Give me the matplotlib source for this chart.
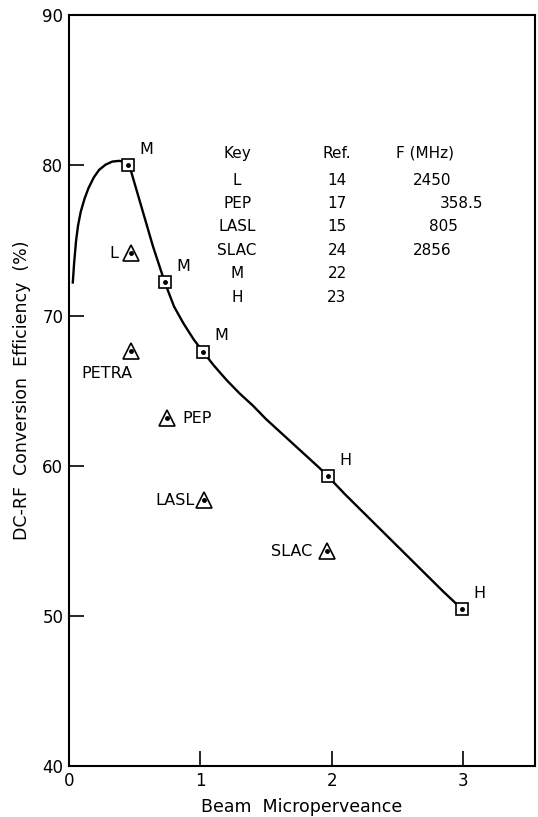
import matplotlib
matplotlib.use("Agg")
from matplotlib import pyplot as plt

# curve
curveX = [0.03, 0.04, 0.055, 0.07, 0.09, 0.12, 0.15, 0.19, 0.23, 0.28, 0.33, 0.38,
          0.42, 0.46, 0.55, 0.64, 0.73, 0.80, 0.87, 0.95, 1.02, 1.10, 1.20, 1.30,
          1.40, 1.50, 1.60, 1.70, 1.80, 1.90, 1.97, 2.10, 2.25, 2.40, 2.55, 2.70,
          2.85, 2.99]
curveY = [72.2, 73.5, 75.0, 76.0, 76.9, 77.8, 78.5, 79.2, 79.7, 80.05, 80.25, 80.3,
          80.25, 80.0, 77.3, 74.6, 72.2, 70.6, 69.5, 68.4, 67.6, 66.7, 65.7, 64.8,
          64.0, 63.1, 62.3, 61.5, 60.7, 59.9, 59.3, 58.1, 56.8, 55.5, 54.2, 52.9,
          51.6, 50.45]

# square points (on the curve)
sqX = [0.45, 0.73, 1.02, 1.97, 2.99]
sqY = [80.0, 72.2, 67.6, 59.3, 50.45]
sqLabels = ["M", "M", "M", "H", "H"]

# triangle points
triX = [0.47, 0.47, 0.75, 1.03, 1.96]
triY = [74.15, 67.65, 63.15, 57.7, 54.3]
triLabels = ["L", "PETRA", "PEP", "LASL", "SLAC"]

# key table
keyNames = ["L", "PEP", "LASL", "SLAC", "M", "H"]
keyRefs = ["14", "17", "15", "24", "22", "23"]
keyFreqs = ["2450", "358.5", "805", "2856"]

fig = plt.figure(figsize=(5.38, 8.17), dpi=100)
ax = fig.add_axes([0.128, 0.0624, 0.866, 0.919])

ax.plot(curveX, curveY, color="black", lw=1.7, solid_joinstyle="round")
ax.plot(sqX, sqY, ls="none", marker="s", ms=8.5, mfc="white", mec="black", mew=1.2)
ax.plot(sqX, sqY, ls="none", marker="o", ms=2.5, color="black")
ax.plot(triX, triY, ls="none", marker="^", ms=11, mfc="white", mec="black", mew=1.2)
ax.plot(triX, triY, ls="none", marker="o", ms=2.5, color="black")

for x, y, lab in zip(sqX, sqY, sqLabels):
    ax.annotate(lab, (x, y), xytext=(8, 6), textcoords="offset points",
                fontsize=11.5, ha="left", va="bottom")

# triangle label offsets (points)
triOffsets = [(-9, 0, "right", "center"), (-17, -16, "center", "center"),
              (11, 0, "left", "center"), (-7, 0, "right", "center"),
              (-10, 0, "right", "center")]
for x, y, lab, (dx, dy, ha, va) in zip(triX, triY, triLabels, triOffsets):
    ax.annotate(lab, (x, y), xytext=(dx, dy), textcoords="offset points",
                fontsize=11.5, ha=ha, va=va)

# table
rowY = [79.0, 77.48, 75.95, 74.35, 72.8, 71.2]
ax.text(1.28, 80.81, "Key", fontsize=11, ha="center", va="center")
ax.text(2.04, 80.81, "Ref.", fontsize=11, ha="center", va="center")
ax.text(2.49, 80.81, "F (MHz)", fontsize=11, ha="left", va="center")
for name, ref, y in zip(keyNames, keyRefs, rowY):
    ax.text(1.28, y, name, fontsize=11, ha="center", va="center")
    ax.text(2.04, y, ref, fontsize=11, ha="center", va="center")
freqLeft = [2.62, 2.82, 2.74, 2.62]
for f, xl, y in zip(keyFreqs, freqLeft, rowY):
    ax.text(xl, y, f, fontsize=11, ha="left", va="center")

ax.set_xlim(0, 3.544)
ax.set_ylim(40, 90)
ax.set_xticks([0, 1, 2, 3])
ax.set_yticks([40, 50, 60, 70, 80, 90])
ax.tick_params(direction="in", length=11, width=1.2, labelsize=12, pad=4)
for s in ax.spines.values():
    s.set_linewidth(1.5)

ax.set_xlabel("Beam  Microperveance", fontsize=12.5, labelpad=6)
ax.set_ylabel("DC-RF  Conversion  Efficiency  (%)", fontsize=12.5, labelpad=8)

fig.savefig("out.png", dpi=100)
